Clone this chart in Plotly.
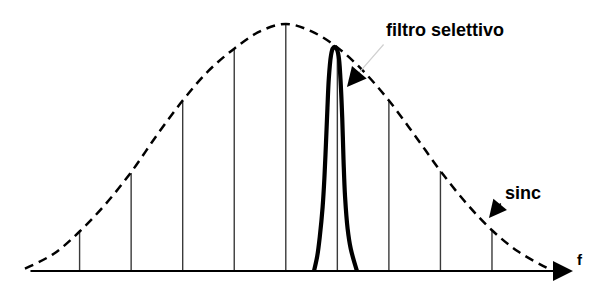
import plotly.graph_objects as go

# harmonic index (frequency in units of line spacing) and line amplitudes
line_k = [-4, -3, -2, -1, 0, 1, 2, 3, 4]
line_amp = [0.158, 0.397, 0.688, 0.899, 1.0, 0.907, 0.692, 0.405, 0.166]

# sinc envelope (dashed)
env_k = [-5.06, -4.5, -4.0, -3.5, -3.0, -2.5, -2.0, -1.5, -1.0, -0.5, 0.0,
         0.5, 1.0, 1.5, 2.0, 2.5, 3.0, 3.5, 4.0, 4.5, 5.09]
env_amp = [0.01, 0.07, 0.16, 0.27, 0.40, 0.55, 0.69, 0.81, 0.90, 0.97, 1.0,
           0.97, 0.905, 0.81, 0.69, 0.55, 0.405, 0.275, 0.165, 0.08, 0.01]

# selective filter response (bold)
filt_k = [0.547, 0.610, 0.660, 0.715, 0.750, 0.780, 0.808, 0.835, 0.875, 0.910, 0.945,
          0.985, 1.025, 1.060, 1.095, 1.120, 1.150, 1.200, 1.260, 1.381]
filt_amp = [0.0, 0.060, 0.140, 0.260, 0.380, 0.520, 0.660, 0.780, 0.870, 0.900, 0.907,
            0.900, 0.870, 0.780, 0.620, 0.450, 0.300, 0.170, 0.090, 0.0]

label_filter = "filtro selettivo"
label_sinc = "sinc"
label_axis = "f"

# build vertical spectral lines
vx, vy = [], []
for k, a in zip(line_k, line_amp):
    vx += [k, k, None]
    vy += [0, a, None]

fig = go.Figure()
fig.add_trace(go.Scatter(x=vx, y=vy, mode="lines",
                         line=dict(color="#3a3a3a", width=1.4),
                         hoverinfo="skip"))
fig.add_trace(go.Scatter(x=env_k, y=env_amp, mode="lines",
                         line=dict(color="black", width=2.5, dash="9px,6px",
                                   shape="spline", smoothing=1.0),
                         hoverinfo="skip"))
fig.add_trace(go.Scatter(x=filt_k, y=filt_amp, mode="lines",
                         line=dict(color="black", width=4.2,
                                   shape="spline", smoothing=1.0),
                         hoverinfo="skip"))

font_b = dict(family="Liberation Sans, Arial, sans-serif", color="black")

annotations = [
    # frequency axis with arrow
    dict(x=5.571, y=0, ax=-4.982, ay=0, xref="x", yref="y", axref="x", ayref="y",
         text="", showarrow=True, arrowhead=2, arrowsize=2.0, arrowwidth=2,
         arrowcolor="black", standoff=0),
    # faint shaft of filter arrow
    dict(x=1.401, y=0.798, ax=1.922, ay=0.923, xref="x", yref="y", axref="x", ayref="y",
         text="", showarrow=True, arrowhead=0, arrowwidth=1.2,
         arrowcolor="#d0d0d0", standoff=0),
    # filter arrow head
    dict(x=1.187, y=0.745, ax=1.401, ay=0.798, xref="x", yref="y", axref="x", ayref="y",
         text="", showarrow=True, arrowhead=2, arrowsize=2.4, arrowwidth=1.6,
         arrowcolor="black", standoff=0),
    # sinc arrow
    dict(x=3.942, y=0.215, ax=4.194, ay=0.279, xref="x", yref="y", axref="x", ayref="y",
         text="", showarrow=True, arrowhead=2, arrowsize=2.2, arrowwidth=1.6,
         arrowcolor="black", standoff=0),
    dict(x=3.088, y=0.976, xref="x", yref="y", text="<b>" + label_filter + "</b>",
         showarrow=False, font=dict(size=18, **font_b), xanchor="center", yanchor="middle"),
    dict(x=4.592, y=0.316, xref="x", yref="y", text="<b>" + label_sinc + "</b>",
         showarrow=False, font=dict(size=18, **font_b), xanchor="center", yanchor="middle"),
    dict(x=5.717, y=0.045, xref="x", yref="y", text="<b>" + label_axis + "</b>",
         showarrow=False, font=dict(size=15, **font_b), xanchor="center", yanchor="middle"),
]

fig.update_layout(
    width=594, height=293,
    margin=dict(l=0, r=0, t=0, b=0),
    paper_bgcolor="white", plot_bgcolor="white",
    showlegend=False,
    xaxis=dict(range=[-5.544, 5.979], visible=False, fixedrange=True),
    yaxis=dict(range=[-0.089, 1.097], visible=False, fixedrange=True),
    annotations=annotations,
)

fig.write_html("out.html", config={"displayModeBar": False})
